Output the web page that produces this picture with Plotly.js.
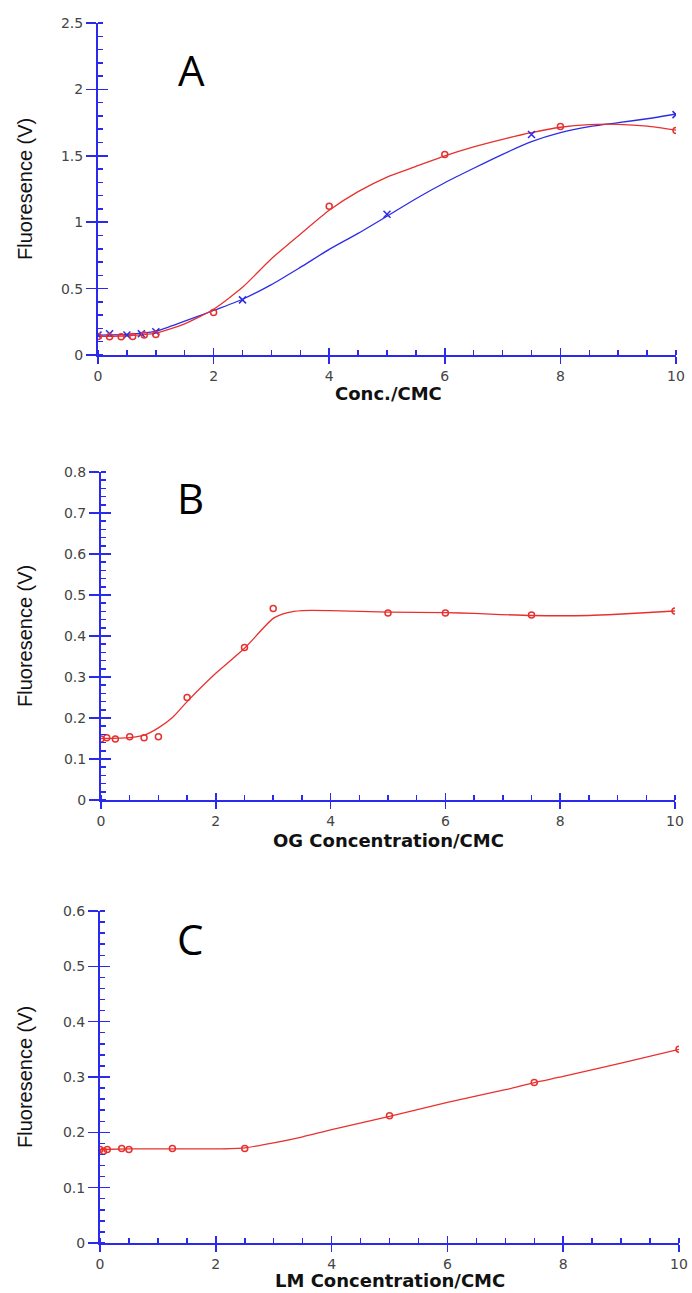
<!DOCTYPE html>
<html>
<head>
<meta charset="utf-8">
<script src="https://cdn.plot.ly/plotly-3.0.1.min.js"></script>
<style>html,body{margin:0;padding:0;background:#fff;}#chart{width:692px;height:1293px;}</style>
</head>
<body>
<div id="chart"></div>
<script>
// ---------- Panel A ----------
const aRedX = [0, 0.2, 0.4, 0.6, 0.8, 1.0, 2, 4, 6, 8, 10];
const aRedY = [0.14, 0.138, 0.138, 0.14, 0.15, 0.155, 0.32, 1.12, 1.51, 1.72, 1.69];
const aBlueX = [0, 0.2, 0.5, 0.75, 1.0, 2.5, 5, 7.5, 10];
const aBlueY = [0.15, 0.16, 0.15, 0.16, 0.175, 0.415, 1.06, 1.66, 1.81];
const aRedFitX = [0, 0.5, 1, 1.5, 2, 2.5, 3, 3.5, 4, 4.5, 5, 5.5, 6, 6.5, 7, 7.5, 8, 8.5, 9, 9.5, 10];
const aRedFitY = [0.14, 0.145, 0.165, 0.235, 0.345, 0.51, 0.725, 0.91, 1.09, 1.23, 1.34, 1.42, 1.50, 1.568, 1.624, 1.674, 1.715, 1.735, 1.737, 1.724, 1.694];
const aBlueFitX = [0, 0.5, 1, 1.5, 2, 2.5, 3, 3.5, 4, 4.5, 5, 5.5, 6, 6.5, 7, 7.5, 8, 8.5, 9, 9.5, 10];
const aBlueFitY = [0.15, 0.155, 0.18, 0.255, 0.335, 0.42, 0.53, 0.66, 0.795, 0.916, 1.045, 1.177, 1.297, 1.406, 1.511, 1.606, 1.674, 1.719, 1.749, 1.779, 1.815];

// ---------- Panel B ----------
const bX = [0, 0.1, 0.25, 0.5, 0.75, 1.0, 1.5, 2.5, 3, 5, 6, 7.5, 10];
const bY = [0.149, 0.152, 0.149, 0.154, 0.152, 0.154, 0.25, 0.372, 0.467, 0.456, 0.456, 0.451, 0.461];
const bFitX = [0, 0.5, 0.75, 1.0, 1.25, 1.5, 2, 2.5, 3, 3.25, 3.5, 4, 5, 6, 6.5, 7.5, 8.5, 9, 10];
const bFitY = [0.15, 0.152, 0.158, 0.176, 0.202, 0.24, 0.309, 0.37, 0.443, 0.457, 0.462, 0.462, 0.458, 0.457, 0.455, 0.450, 0.450, 0.453, 0.461];

// ---------- Panel C ----------
const cX = [0, 0.06, 0.125, 0.375, 0.5, 1.25, 2.5, 5, 7.5, 10];
const cY = [0.169, 0.166, 0.169, 0.171, 0.169, 0.171, 0.171, 0.23, 0.29, 0.35];
const cFitX = [0, 0.5, 1, 1.5, 2, 2.5, 3, 3.5, 4, 5, 6, 7, 7.5, 8, 9, 10];
const cFitY = [0.169, 0.17, 0.17, 0.17, 0.17, 0.172, 0.181, 0.192, 0.205, 0.229, 0.254, 0.277, 0.29, 0.301, 0.325, 0.35];

// ---------- labels ----------
const panelLetters = ["A", "B", "C"];
const xTitles = ["Conc./CMC", "OG Concentration/CMC", "LM Concentration/CMC"];
const yTitle = "Fluoresence (V)";

const RED = "#e8312f";
const BLUE = "#2c2ce6";
const AXIS = "#2a2aee";
const W = 692, H = 1293;

// pixel frames for each panel [left, right, top, bottom]
const frames = [
  [98, 676, 23, 355],
  [101, 675, 472, 800],
  [100, 679, 911, 1243]
];
const yRanges = [[0, 2.5], [0, 0.8], [0, 0.6]];
const yDticks = [0.5, 0.1, 0.1];
const yMinor = [0.1, 0.02, 0.02];

function xd(f){ return [f[0]/W, f[1]/W]; }
function yd(f){ return [1 - f[3]/H, 1 - f[2]/H]; }

const tickFont = {family: "DejaVu Sans", size: 14, color: "#444444"};

const layout = {
  width: W, height: H,
  margin: {l: 0, r: 0, t: 0, b: 0},
  paper_bgcolor: "#ffffff",
  plot_bgcolor: "rgba(0,0,0,0)",
  showlegend: false,
  annotations: [],
  font: {family: "DejaVu Sans"}
};

for (let i = 0; i < 3; i++) {
  const n = i + 1;
  const xs = n === 1 ? "" : String(n);
  const ox = String(n + 3); // overlay axes
  const f = frames[i];
  layout["xaxis" + xs] = {
    domain: xd(f), anchor: "y" + xs, range: [0, 10], dtick: 2,
    showgrid: false, zeroline: false, showline: true, linecolor: AXIS, linewidth: 2,
    ticks: "outside", ticklen: 7, tickwidth: 1.5, tickcolor: AXIS,
    tickfont: tickFont,
    minor: {dtick: 0.5, ticks: "inside", ticklen: 5, tickwidth: 1.5, tickcolor: AXIS, showgrid: false},
    fixedrange: true
  };
  layout["yaxis" + xs] = {
    domain: yd(f), anchor: "x" + xs, range: yRanges[i], dtick: yDticks[i],
    showgrid: false, zeroline: false, showline: true, linecolor: AXIS, linewidth: 2,
    ticks: "outside", ticklen: 10, tickwidth: 1.5, tickcolor: AXIS,
    tickfont: tickFont,
    minor: {dtick: yMinor[i], ticks: "inside", ticklen: 5, tickwidth: 1.5, tickcolor: AXIS, showgrid: false},
    fixedrange: true
  };
  layout["xaxis" + ox] = {
    overlaying: "x" + xs, anchor: "y" + xs, range: [0, 10], dtick: 2,
    showgrid: false, zeroline: false, showline: false,
    ticks: "inside", ticklen: 7, tickwidth: 1.5, tickcolor: AXIS,
    showticklabels: false, fixedrange: true
  };
  layout["yaxis" + ox] = {
    overlaying: "y" + xs, anchor: "x" + xs, range: yRanges[i], dtick: yDticks[i],
    showgrid: false, zeroline: false, showline: false,
    ticks: "inside", ticklen: 10, tickwidth: 1.5, tickcolor: AXIS,
    showticklabels: false, fixedrange: true
  };
}

const letterPos = [[192, 69], [190, 498], [190, 938]];
const xTitlePos = [[388, 394], [388, 840], [390, 1280]];
for (let i = 0; i < 3; i++) {
  const f = frames[i];
  layout.annotations.push({
    text: panelLetters[i], xref: "paper", yref: "paper",
    x: letterPos[i][0]/W, y: 1 - letterPos[i][1]/H, xanchor: "center", yanchor: "middle",
    showarrow: false, font: {family: "Open Sans", size: 42, color: "#000"}
  });
  layout.annotations.push({
    text: "<b>" + xTitles[i] + "</b>", xref: "paper", yref: "paper",
    x: xTitlePos[i][0]/W, y: 1 - xTitlePos[i][1]/H, xanchor: "center", yanchor: "middle",
    showarrow: false, font: {family: "DejaVu Sans", size: 18, color: "#111"}
  });
  layout.annotations.push({
    text: yTitle, xref: "paper", yref: "paper", textangle: -90,
    x: 25/W, y: 1 - ((f[2] + f[3]) / 2)/H, xanchor: "center", yanchor: "middle",
    showarrow: false, font: {family: "Liberation Sans", size: 20, color: "#111"}
  });
}

function line(x, y, color, xa, ya) {
  return {x: x, y: y, xaxis: xa, yaxis: ya, type: "scatter", mode: "lines",
    line: {color: color, width: 1.3, shape: "spline", smoothing: 0.6}, hoverinfo: "skip"};
}
function pts(x, y, color, sym, xa, ya) {
  return {x: x, y: y, xaxis: xa, yaxis: ya, type: "scatter", mode: "markers",
    marker: {symbol: sym, size: sym === "circle-open" ? 6 : 7, color: color, line: {width: 1.5, color: color}},
    hoverinfo: "skip"};
}

const data = [
  line(aBlueFitX, aBlueFitY, BLUE, "x", "y"),
  line(aRedFitX, aRedFitY, RED, "x", "y"),
  pts(aBlueX, aBlueY, BLUE, "x-thin-open", "x", "y"),
  pts(aRedX, aRedY, RED, "circle-open", "x", "y"),
  line(bFitX, bFitY, RED, "x2", "y2"),
  pts(bX, bY, RED, "circle-open", "x2", "y2"),
  line(cFitX, cFitY, RED, "x3", "y3"),
  pts(cX, cY, RED, "circle-open", "x3", "y3"),
  {x: [], y: [], xaxis: "x4", yaxis: "y4", type: "scatter", mode: "markers"},
  {x: [], y: [], xaxis: "x5", yaxis: "y5", type: "scatter", mode: "markers"},
  {x: [], y: [], xaxis: "x6", yaxis: "y6", type: "scatter", mode: "markers"}
];

Plotly.newPlot("chart", data, layout, {staticPlot: true, displayModeBar: false});
</script>
</body>
</html>
